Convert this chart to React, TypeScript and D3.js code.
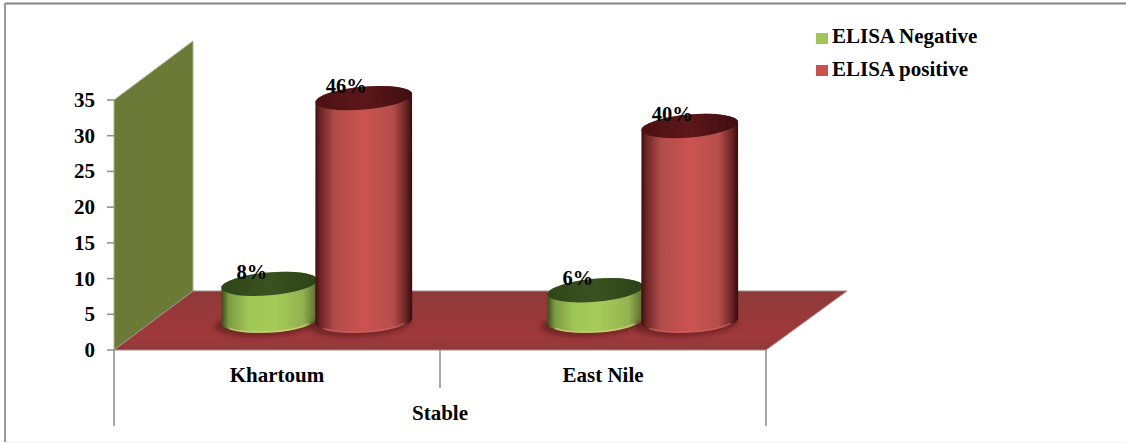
import React from "react";
import * as d3 from "d3";

// Chart data
const regions = ["Khartoum", "East Nile"];
const groupLabel = "Stable";
const seriesNames = ["ELISA Negative", "ELISA positive"];
const negativeValues = [5.2, 4.3];
const positiveValues = [31.2, 27.3];
const negativeLabels = ["8%", "6%"];
const positiveLabels = ["46%", "40%"];
const yTicks = [0, 5, 10, 15, 20, 25, 30, 35];

const W = 1126;
const H = 443;
const FONT = "'Liberation Serif', 'Times New Roman', serif";

// Oblique projection of the 3D plot box
const left = 114;
const right = 766;
const floorY = 350;
const ceilingY = 100;
const depth = { x: 79, y: -59 };

const y = d3.scaleLinear().domain([0, 35]).range([floorY, ceilingY]);
const x = d3.scaleBand<string>().domain(regions).range([left, right]);
const inner = d3.scaleBand<string>().domain(seriesNames).range([-94.5, 94.5]);

const topTiltDeg = -5;
const baseTiltDeg = -3;
const ry = 11.5;

const palette = [
  {
    body: "url(#bodyGreen)",
    top: "url(#topGreen)",
    rim: "#d9d27e",
    swatch: "#a2c65c",
    rx: 48,
  },
  {
    body: "url(#bodyRed)",
    top: "url(#topRed)",
    rim: "#d8605c",
    swatch: "#c9504e",
    rx: 48.5,
  },
];

const ends = (cx: number, cy: number, rx: number, deg: number) => {
  const a = (deg * Math.PI) / 180;
  return {
    x0: cx - rx * Math.cos(a),
    y0: cy - rx * Math.sin(a),
    x1: cx + rx * Math.cos(a),
    y1: cy + rx * Math.sin(a),
  };
};

function Cylinder({
  cx,
  value,
  label,
  s,
}: {
  cx: number;
  value: number;
  label: string;
  s: number;
}) {
  const p = palette[s];
  const baseY = floorY + depth.y / 2 + 0.5;
  const topY = baseY - (y(0) - y(value));
  const t = ends(cx, topY, p.rx, topTiltDeg);
  const b = ends(cx, baseY, p.rx, baseTiltDeg);
  const topArc = `A${p.rx} ${ry} ${topTiltDeg} 0 0`;
  const baseArc = `A${p.rx} ${ry} ${baseTiltDeg} 0 0`;
  const body = `M${t.x0} ${t.y0} L${b.x0} ${b.y0} ${baseArc} ${b.x1} ${b.y1} L${t.x1} ${t.y1} ${topArc} ${t.x0} ${t.y0} Z`;
  const rim = `M${b.x0 + 8} ${b.y0 + 5} A${p.rx - 2} ${ry} ${baseTiltDeg} 0 0 ${b.x1 - 8} ${b.y1 + 5}`;
  return (
    <g>
      <ellipse
        cx={cx - 4}
        cy={baseY + 3}
        rx={p.rx + 3}
        ry={ry + 1}
        transform={`rotate(${baseTiltDeg} ${cx} ${baseY})`}
        fill="#4a1414"
        opacity={0.5}
        filter="url(#soft)"
      />
      <path d={body} fill={p.body} />
      <path d={rim} fill="none" stroke={p.rim} strokeWidth={1.5} opacity={0.7} />
      <ellipse
        cx={cx}
        cy={topY}
        rx={p.rx}
        ry={ry}
        transform={`rotate(${topTiltDeg} ${cx} ${topY})`}
        fill={p.top}
      />
      <text
        x={cx - 17.5}
        y={topY - 5}
        textAnchor="middle"
        fontFamily={FONT}
        fontWeight="bold"
        fontSize={20.5}
        fill="#000"
      >
        {label}
      </text>
    </g>
  );
}

export default function App() {
  const wall = [
    [left, floorY],
    [left, ceilingY],
    [left + depth.x, ceilingY + depth.y],
    [left + depth.x, floorY + depth.y],
  ];
  const floor = [
    [left, floorY],
    [left + depth.x, floorY + depth.y],
    [right + depth.x + 2, floorY + depth.y],
    [right, floorY],
  ];
  const poly = d3.line();
  const textStyle = {
    fontFamily: FONT,
    fontWeight: "bold" as const,
    fontSize: 21,
    fill: "#000",
  };
  const axisGrey = "#8c8c8c";

  return (
    <svg
      width={W}
      height={H}
      viewBox={`0 0 ${W} ${H}`}
      style={{ position: "absolute", left: 0, top: 0, background: "#fff" }}
    >
      <defs>
        <linearGradient id="bodyRed" x1="0" x2="1" y1="0" y2="0">
          <stop offset="0" stopColor="#3a0f10" />
          <stop offset="0.05" stopColor="#6b2524" />
          <stop offset="0.2" stopColor="#b04c4a" />
          <stop offset="0.5" stopColor="#cb5350" />
          <stop offset="0.8" stopColor="#b54e4b" />
          <stop offset="0.93" stopColor="#6e2626" />
          <stop offset="1" stopColor="#340c0e" />
        </linearGradient>
        <linearGradient id="bodyGreen" x1="0" x2="1" y1="0" y2="0">
          <stop offset="0" stopColor="#3c4a1c" />
          <stop offset="0.08" stopColor="#7e9c42" />
          <stop offset="0.28" stopColor="#9fc555" />
          <stop offset="0.55" stopColor="#a6cb58" />
          <stop offset="0.85" stopColor="#93b250" />
          <stop offset="1" stopColor="#5a6a30" />
        </linearGradient>
        <linearGradient id="topRed" x1="0" x2="1" y1="0" y2="0">
          <stop offset="0" stopColor="#4b1112" />
          <stop offset="0.5" stopColor="#5c1719" />
          <stop offset="1" stopColor="#3f0e10" />
        </linearGradient>
        <linearGradient id="topGreen" x1="0" x2="1" y1="0" y2="0">
          <stop offset="0" stopColor="#2f4618" />
          <stop offset="0.5" stopColor="#3a5220" />
          <stop offset="1" stopColor="#2c4217" />
        </linearGradient>
        <linearGradient id="floorFill" x1="0" x2="0" y1="0" y2="1">
          <stop offset="0" stopColor="#8e3a38" />
          <stop offset="0.75" stopColor="#a0383b" />
          <stop offset="1" stopColor="#8f3a3a" />
        </linearGradient>
        <filter id="soft" x="-20%" y="-50%" width="140%" height="200%">
          <feGaussianBlur stdDeviation="2" />
        </filter>
      </defs>

      {/* Frame: only the top, left and a faint bottom edge are visible */}
      <line x1={5} x2={W} y1={3.5} y2={3.5} stroke="#858585" strokeWidth={2} />
      <line x1={5} x2={5} y1={3} y2={442} stroke="#9a9a9a" strokeWidth={2} />
      <line x1={5} x2={W} y1={442.5} y2={442.5} stroke="#f4f4f4" strokeWidth={1} />

      {/* Back wall and floor */}
      <path d={poly(wall as [number, number][]) + "Z"} fill="#6b7b37" stroke="#a9b58c" strokeWidth={1} />
      <path d={poly(floor as [number, number][]) + "Z"} fill="url(#floorFill)" stroke="#a58a88" strokeWidth={1} />

      {/* Value axis */}
      {yTicks.map((t) => (
        <g key={t}>
          <line x1={left - 7} x2={left} y1={y(t)} y2={y(t)} stroke={axisGrey} strokeWidth={1.5} />
          <text x={95} y={y(t) + 7} textAnchor="end" {...textStyle}>
            {t}
          </text>
        </g>
      ))}

      {/* Category axis with its two-level labels */}
      <line x1={left} x2={left} y1={floorY} y2={426} stroke={axisGrey} strokeWidth={1.5} />
      <line x1={x("East Nile")!} x2={x("East Nile")!} y1={floorY} y2={388} stroke={axisGrey} strokeWidth={1.5} />
      <line x1={right} x2={right} y1={floorY} y2={426} stroke={axisGrey} strokeWidth={1.5} />
      {regions.map((r) => (
        <text key={r} x={x(r)! + x.bandwidth() / 2} y={382} textAnchor="middle" {...textStyle}>
          {r}
        </text>
      ))}
      <text x={(left + right) / 2} y={420} textAnchor="middle" {...textStyle}>
        {groupLabel}
      </text>

      {/* Cylinders, back series first so the taller red ones overlap the green */}
      {regions.map((r, i) => {
        const centre = x(r)! + x.bandwidth() / 2 + depth.x / 2;
        const offset = (name: string) => inner(name)! + inner.bandwidth() / 2;
        return (
          <g key={r}>
            <Cylinder cx={centre + offset(seriesNames[0])} value={negativeValues[i]} label={negativeLabels[i]} s={0} />
            <Cylinder cx={centre + offset(seriesNames[1])} value={positiveValues[i]} label={positiveLabels[i]} s={1} />
          </g>
        );
      })}

      {/* Legend */}
      {seriesNames.map((name, i) => (
        <g key={name}>
          <rect x={816} y={33 + i * 32} width={12} height={11} fill={palette[i].swatch} />
          <text x={832} y={43 + i * 32.5} {...textStyle}>
            {name}
          </text>
        </g>
      ))}
    </svg>
  );
}
